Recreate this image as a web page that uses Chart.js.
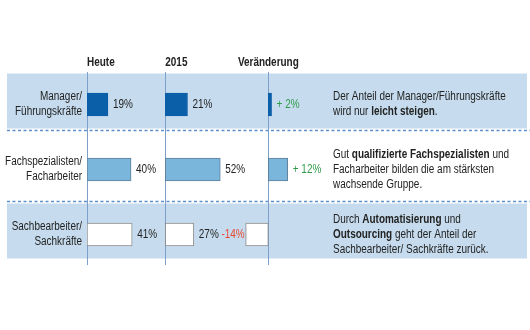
<!DOCTYPE html>
<html>
<head>
<meta charset="utf-8">
<script src="https://cdn.jsdelivr.net/npm/chart.js@4.4.1/dist/chart.umd.min.js"></script>
<style>
    html, body { margin: 0; padding: 0; background: #ffffff; }
    canvas { display: block; }
</style>
</head>
<body>
<canvas id="chart" width="530" height="330"></canvas>
<script>
const categories = [
    ['Manager/', 'Führungskräfte'],
    ['Fachspezialisten/', 'Facharbeiter'],
    ['Sachbearbeiter/', 'Sachkräfte'],
];
const columns = ['Heute', '2015', 'Veränderung'];
const today = [19, 40, 41];
const in2015 = [21, 52, 27];
const change = [2, 12, -14];

// each note line is a list of [text, bold]
const notes = [
    [
        [['Der Anteil der Manager/Führungskräfte', false]],
        [['wird nur ', false], ['leicht steigen', true], ['.', false]],
    ],
    [
        [['Gut ', false], ['qualifizierte Fachspezialisten', true], [' und', false]],
        [['Facharbeiter bilden die am stärksten', false]],
        [['wachsende Gruppe.', false]],
    ],
    [
        [['Durch ', false], ['Automatisierung', true], [' und', false]],
        [['Outsourcing', true], [' geht der Anteil der', false]],
        [['Sachbearbeiter/ Sachkräfte zurück.', false]],
    ],
];

const FONT = '"Liberation Sans", Arial, Helvetica, sans-serif';
const SQUEEZE = 0.83; // the original type is a narrow Helvetica
const BAND = '#c6dcee';
const TEXT = '#222222';

const fills = ['#0b5ea8', '#7ab5dc', '#ffffff'];
const borders = ['#0b5ea8', '#5f809b', '#8a8a8a'];

function font(size, bold) {
    return (bold ? 'bold ' : '') + size + 'px ' + FONT;
}

// draws narrow text and returns its drawn width
function narrowText(ctx, text, x, y, align) {
    const w = ctx.measureText(text).width * SQUEEZE;
    let left = x;
    if (align === 'right') left = x - w;
    if (align === 'center') left = x - w / 2;
    ctx.save();
    ctx.translate(left, y);
    ctx.scale(SQUEEZE, 1);
    ctx.textAlign = 'left';
    ctx.fillText(text, 0, 0);
    ctx.restore();
    return w;
}

const tablePlugin = {
    id: 'tableDecor',
    beforeDraw(chart) {
        const { ctx } = chart;
        const y = chart.scales.y;

        ctx.save();
        ctx.fillStyle = BAND;
        [0, 2].forEach((i) => {
            const c = y.getPixelForValue(i);
            ctx.fillRect(7, c - 31, 520, 55);
        });
        ctx.restore();
    },
    beforeDatasetsDraw(chart) {
        const { ctx } = chart;
        const y = chart.scales.y;

        ctx.save();
        // dashed separators
        ctx.strokeStyle = '#5a8fcb';
        ctx.lineWidth = 1.5;
        ctx.setLineDash([3, 2.5]);
        const lines = [y.getPixelForValue(0) + 26, y.getPixelForValue(2) - 33];
        lines.forEach((ly) => {
            ctx.beginPath();
            ctx.moveTo(7, ly);
            ctx.lineTo(530, ly);
            ctx.stroke();
        });
        ctx.setLineDash([]);

        // column baselines
        ctx.strokeStyle = '#7d9fc8';
        ctx.lineWidth = 1;
        ['xNow', 'xFuture', 'xChange'].forEach((id) => {
            const px = Math.round(chart.scales[id].getPixelForValue(0)) + 0.5;
            ctx.beginPath();
            ctx.moveTo(px, 72);
            ctx.lineTo(px, 265);
            ctx.stroke();
        });
        ctx.restore();
    },
    afterDatasetsDraw(chart) {
        const { ctx } = chart;
        const y = chart.scales.y;

        ctx.save();
        ctx.textBaseline = 'middle';
        ctx.fillStyle = TEXT;

        // column headers
        ctx.font = font(12, true);
        narrowText(ctx, columns[0], chart.scales.xNow.getPixelForValue(0), 63, 'left');
        narrowText(ctx, columns[1], chart.scales.xFuture.getPixelForValue(0), 63, 'left');
        narrowText(ctx, columns[2], chart.scales.xChange.getPixelForValue(0), 63, 'center');

        // category labels, right aligned against the first column
        ctx.font = font(12, false);
        categories.forEach((lines, i) => {
            const c = y.getPixelForValue(i);
            const top = c - (lines.length - 1) * 15 / 2;
            lines.forEach((line, li) => {
                narrowText(ctx, line, y.right - 5, top + li * 15, 'right');
            });
        });

        // value labels
        chart.data.datasets.forEach((dataset, di) => {
            chart.getDatasetMeta(di).data.forEach((bar, j) => {
                const value = dataset.data[j];
                const { x, base } = bar.getProps(['x', 'base'], true);
                let text = value + '%';
                ctx.fillStyle = TEXT;
                if (di === 2) {
                    text = value >= 0 ? '+ ' + value + '%' : value + '%';
                    ctx.fillStyle = value >= 0 ? '#2f9a4a' : '#e8472f';
                }
                if (value >= 0) {
                    narrowText(ctx, text, Math.max(x, base) + 5, bar.y, 'left');
                } else {
                    narrowText(ctx, text, Math.min(x, base) - 1, bar.y, 'right');
                }
            });
        });

        // notes on the right
        ctx.fillStyle = TEXT;
        notes.forEach((lines, i) => {
            const c = y.getPixelForValue(i);
            const top = c - (lines.length - 1) * 15 / 2;
            lines.forEach((segments, li) => {
                let tx = 333;
                segments.forEach(([text, bold]) => {
                    ctx.font = font(12, bold);
                    tx += narrowText(ctx, text, tx, top + li * 15, 'left');
                });
            });
        });
        ctx.restore();
    },
};

const barStyle = {
    backgroundColor: fills,
    borderColor: borders,
    borderWidth: 1,
    borderSkipped: false,
    barThickness: 23,
    grouped: false,
};

new Chart(document.getElementById('chart'), {
    type: 'bar',
    data: {
        labels: categories,
        datasets: [
            { label: columns[0], data: today, xAxisID: 'xNow', ...barStyle },
            { label: columns[1], data: in2015, xAxisID: 'xFuture', ...barStyle },
            { label: columns[2], data: change, xAxisID: 'xChange', ...barStyle },
        ],
    },
    options: {
        responsive: false,
        animation: false,
        indexAxis: 'y',
        layout: {
            padding: { left: 0, right: 205, top: 72, bottom: 63 },
        },
        plugins: {
            legend: { display: false },
            tooltip: { enabled: false },
        },
        scales: {
            y: {
                position: 'left',
                afterFit(scale) {
                    scale.width = 87;
                },
                grid: { display: false, drawTicks: false },
                border: { display: false },
                ticks: { display: false },
            },
            xNow: { type: 'linear', display: false, min: 0, max: 216 },
            xFuture: { type: 'linear', display: false, min: -74, max: 151 },
            xChange: { type: 'linear', display: false, min: -112, max: 35 },
        },
    },
    plugins: [tablePlugin],
});
</script>
</body>
</html>
